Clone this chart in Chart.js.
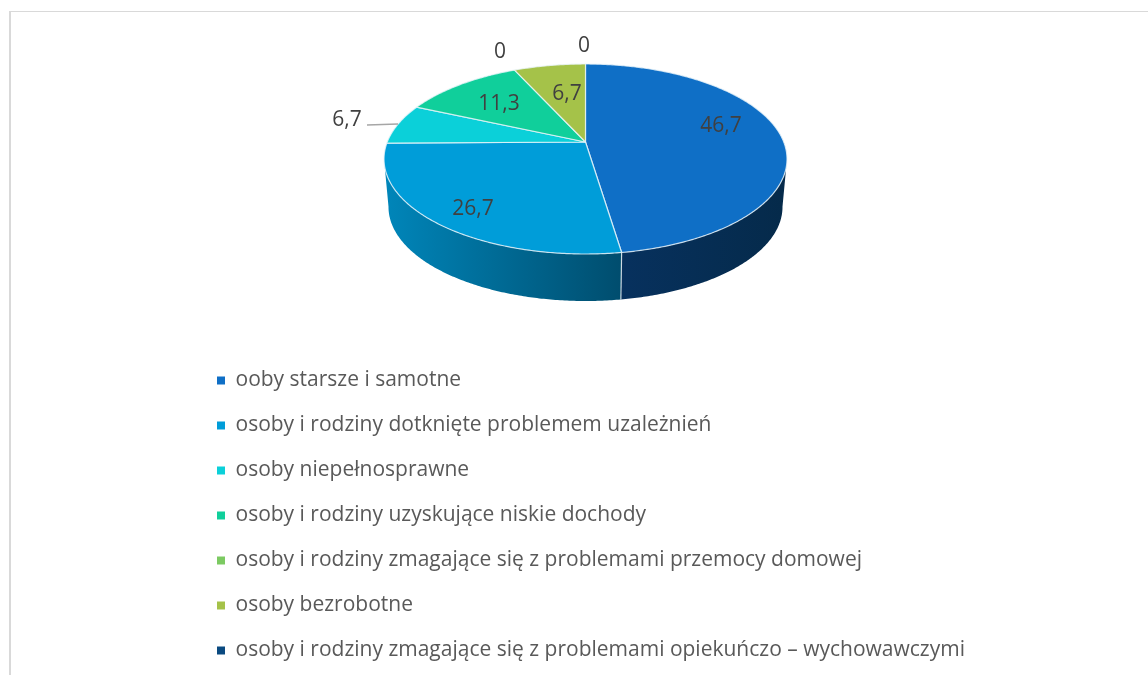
<!DOCTYPE html>
<html lang="pl"><head><meta charset="utf-8">
<style>
html,body{margin:0;padding:0;background:#fff;width:1148px;height:675px;overflow:hidden}
#wrap{position:relative;width:1148px;height:675px;overflow:hidden}
#frameT{position:absolute;left:9px;top:11px;width:1139px;height:1px;background:#d9d9d9}
#frameL{position:absolute;left:9px;top:11px;width:2px;height:664px;background:#d9d9d9}
canvas{position:absolute;left:0;top:0}
</style>
<script src="https://cdn.jsdelivr.net/npm/chart.js@4/dist/chart.umd.min.js"></script>
</head><body><div id="wrap"><canvas id="c" width="1148" height="800"></canvas><div id="frameT"></div><div id="frameL"></div></div>
<script>
const categories = [
  "ooby starsze i samotne",
  "osoby i rodziny dotknięte problemem uzależnień",
  "osoby niepełnosprawne",
  "osoby i rodziny uzyskujące niskie dochody",
  "osoby i rodziny zmagające się z problemami przemocy domowej",
  "osoby bezrobotne",
  "osoby i rodziny zmagające się z problemami opiekuńczo – wychowawczymi"
];
const values = [46.7, 26.7, 6.7, 11.3, 0, 6.7, 0];
const valueLabels = ["46,7", "26,7", "6,7", "11,3", "0", "6,7", "0"];
const colors = ["#0F6FC6", "#009DD9", "#0BD0D9", "#10CF9B", "#7CCA62", "#A5C249", "#0A4A80"];
const wallLeft = ["#07315e", "#0086ba", "#08a0a8", "#0ca078", "#5f9c4b", "#7f9638", "#063660"];
const wallRight = ["#052a4a", "#004d6e", "#056a70", "#086a50", "#3f6832", "#556425", "#042440"];
const labelSpots = [[721,126],[473,209],[347,120],[499,104],[500,52],[567,94],[584,46]];
const leader = {from:[367,125], to:[398,124]};

const FONT = '"Open Sans", sans-serif';
const top3d = {cx:585.5, cy:159, rx:201.5, ry:95, apexDy:-17};
const low3d = {cx:585.5, cy:207, rx:197, ry:94, apexDy:-17};

function project(g, a){
  const k = g.apexDy / g.ry;
  const u = Math.cos(a), v = Math.sin(a);
  const w = 1 + k * v;
  return [g.cx + g.rx * Math.sqrt(1 - k*k) * u / w, g.cy + (g.ry * v + g.apexDy) / w];
}
function rim(ctx, g, a0, a1){
  const n = Math.max(2, Math.ceil(Math.abs(a1 - a0) / 0.01));
  for (let i = 0; i <= n; i++){
    const p = project(g, a0 + (a1 - a0) * i / n);
    ctx.lineTo(p[0], p[1]);
  }
}
const pie3d = {
  id: 'pie3d',
  beforeDatasetDraw(chart, args){
    const ctx = chart.ctx;
    const arcs = chart.getDatasetMeta(args.index).data;
    const vis0 = Math.asin(-top3d.apexDy / top3d.ry), vis1 = Math.PI - vis0;
    ctx.save();
    ctx.lineJoin = 'round';
    arcs.forEach((arc, i) => {
      if (!(arc.endAngle > arc.startAngle)) return;
      const a0 = Math.max(arc.startAngle, vis0), a1 = Math.min(arc.endAngle, vis1);
      if (a1 <= a0) return;
      const pl = project(top3d, a1), pr = project(top3d, a0);
      const grad = ctx.createLinearGradient(pl[0], 0, pr[0], 0);
      grad.addColorStop(0, wallLeft[i]); grad.addColorStop(1, wallRight[i]);
      ctx.beginPath();
      const s = project(top3d, a0); ctx.moveTo(s[0], s[1]);
      rim(ctx, top3d, a0, a1);
      rim(ctx, low3d, a1, a0);
      ctx.closePath();
      ctx.fillStyle = grad; ctx.fill();
    });
    arcs.forEach((arc) => {
      const a = arc.endAngle;
      if (a > vis0 && a < vis1 && arc.endAngle > arc.startAngle){
        const p = project(top3d, a), q = project(low3d, a);
        ctx.beginPath(); ctx.moveTo(p[0], p[1]); ctx.lineTo(q[0], q[1]);
        ctx.strokeStyle = 'rgba(255,255,255,.75)'; ctx.lineWidth = 1.2; ctx.stroke();
      }
    });
    arcs.forEach((arc, i) => {
      if (!(arc.endAngle > arc.startAngle)) return;
      ctx.beginPath();
      ctx.moveTo(top3d.cx, top3d.cy + top3d.apexDy);
      rim(ctx, top3d, arc.startAngle, arc.endAngle);
      ctx.closePath();
      ctx.fillStyle = colors[i]; ctx.fill();
      ctx.strokeStyle = 'rgba(235,245,250,.8)'; ctx.lineWidth = 1.2; ctx.stroke();
    });
    ctx.restore();
    return false;
  },
  afterDatasetsDraw(chart){
    const ctx = chart.ctx;
    ctx.save();
    ctx.strokeStyle = '#a6a6a6'; ctx.lineWidth = 1.5;
    ctx.beginPath(); ctx.moveTo(leader.from[0], leader.from[1]); ctx.lineTo(leader.to[0], leader.to[1]); ctx.stroke();
    ctx.fillStyle = '#404040';
    ctx.font = '21px ' + FONT;
    ctx.textAlign = 'center'; ctx.textBaseline = 'middle';
    valueLabels.forEach((t, i) => ctx.fillText(t, labelSpots[i][0], labelSpots[i][1]));
    ctx.restore();
  }
};
new Chart(document.getElementById('c'), {
  type: 'pie',
  plugins: [pie3d],
  data: { labels: categories, datasets: [{ data: values, backgroundColor: colors, borderWidth: 0 }] },
  options: {
    responsive: false,
    animation: false,
    events: [],
    layout: { padding: { left: 193, top: 346 } },
    plugins: {
      tooltip: { enabled: false },
      legend: {
        position: 'left', align: 'start', maxWidth: 900,
        labels: { boxWidth: 8, boxHeight: 8, padding: 24, color: '#595959', font: { family: FONT, size: 21 } }
      }
    }
  }
});
</script></body></html>
